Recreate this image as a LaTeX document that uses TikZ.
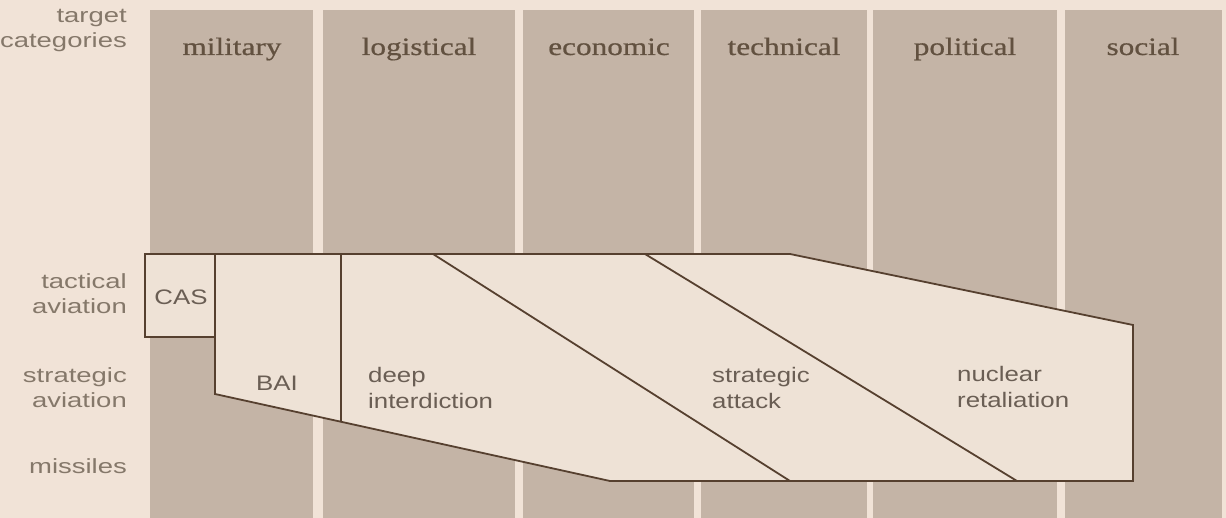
\documentclass[tikz,border=0pt]{standalone}
\usepackage{fontspec}
\usepackage{graphicx}
\setmainfont{Liberation Serif}
\newfontfamily\colf[FakeBold=0.6]{Liberation Serif}
\newfontfamily\sansf{Liberation Sans}
\definecolor{bgc}{HTML}{F1E3D7}
\definecolor{colc}{HTML}{C4B4A6}
\definecolor{boxc}{HTML}{EEE2D6}
\definecolor{linec}{HTML}{56402F}
\definecolor{serifc}{HTML}{625140}
\definecolor{sidec}{HTML}{85786A}
\definecolor{boxtc}{HTML}{6A5E54}
\newcommand{\wstr}[2]{\scalebox{#1}[1]{#2}}
\newcommand{\rlines}[1]{\begin{tabular}{@{}r@{}}#1\end{tabular}}
\newcommand{\llines}[1]{\begin{tabular}{@{}l@{}}#1\end{tabular}}
\begin{document}
\begin{tikzpicture}[x=1pt,y=-1pt,
  colbar/.style={fill=colc,draw=none},
  collab/.style={font=\colf\fontsize{25}{28}\selectfont, text=serifc, inner sep=0, anchor=base},
  sidelab/.style={font=\sansf\fontsize{20.5}{25}\selectfont, text=sidec, inner sep=0, anchor=east},
  boxlab/.style={font=\sansf\fontsize{21}{26}\selectfont, text=boxtc, inner sep=0},
  edge/.style={draw=linec, line width=1.8pt, line join=miter}]
\useasboundingbox (0,0) rectangle (1226,518);
\fill[bgc] (0,0) rectangle (1226,518);
% columns
\fill[colbar] (150,10) rectangle (313,518);
\fill[colbar] (323,10) rectangle (515,518);
\fill[colbar] (523,10) rectangle (694,518);
\fill[colbar] (701,10) rectangle (867,518);
\fill[colbar] (873,10) rectangle (1057,518);
\fill[colbar] (1065,10) rectangle (1222,518);
% column labels
\node[collab] (mil) at (232,55) {\wstr{1.25}{military}};
\node[collab] (log) at (419,55) {\wstr{1.25}{logistical}};
\node[collab] (eco) at (609,55) {\wstr{1.25}{economic}};
\node[collab] (tec) at (784,55) {\wstr{1.25}{technical}};
\node[collab] (pol) at (965,55) {\wstr{1.25}{political}};
\node[collab] (soc) at (1143,55) {\wstr{1.25}{social}};
% side labels
\node[sidelab] (tc) at (127,30) {\wstr{1.34}{\rlines{target\\categories}}};
\node[sidelab] (ta) at (127,296) {\wstr{1.34}{\rlines{tactical\\aviation}}};
\node[sidelab] (sa) at (127,390) {\wstr{1.34}{\rlines{strategic\\aviation}}};
\node[sidelab] (mi) at (127,466) {\wstr{1.34}{missiles}};
% box outline
\coordinate (p1) at (145,254);
\coordinate (p2) at (790,254);
\coordinate (p3) at (1133,325);
\coordinate (p4) at (1133,481);
\coordinate (p5) at (610,481);
\coordinate (p6) at (215,394);
\coordinate (p7) at (215,337);
\coordinate (p8) at (145,337);
\coordinate (c1) at (215,254);
\coordinate (b1) at (341,254);
\coordinate (b2) at (341,422.4);
\coordinate (d1a) at (433,254);
\coordinate (d1b) at (790,481);
\coordinate (d2a) at (645,254);
\coordinate (d2b) at (1017,481);
\fill[boxc] (p1) -- (p2) -- (p3) -- (p4) -- (p5) -- (p6) -- (p7) -- (p8) -- cycle;
\draw[edge] (p1) -- (p2) -- (p3) -- (p4) -- (p5) -- (p6) -- (p7) -- (p8) -- cycle;
\draw[edge] (c1) -- (p7);
\draw[edge] (b1) -- (b2);
\draw[edge] (d1a) -- (d1b);
\draw[edge] (d2a) -- (d2b);
% box labels
\node[boxlab] (cas) at (181,297) {\wstr{1.23}{CAS}};
\node[boxlab] (bai) at (277,383) {\wstr{1.23}{BAI}};
\node[boxlab, anchor=west] (di) at (368,390) {\wstr{1.23}{\llines{deep\\interdiction}}};
\node[boxlab, anchor=west] (st) at (712,390) {\wstr{1.23}{\llines{strategic\\attack}}};
\node[boxlab, anchor=west] (nr) at (957,389) {\wstr{1.23}{\llines{nuclear\\retaliation}}};
\end{tikzpicture}
\end{document}
